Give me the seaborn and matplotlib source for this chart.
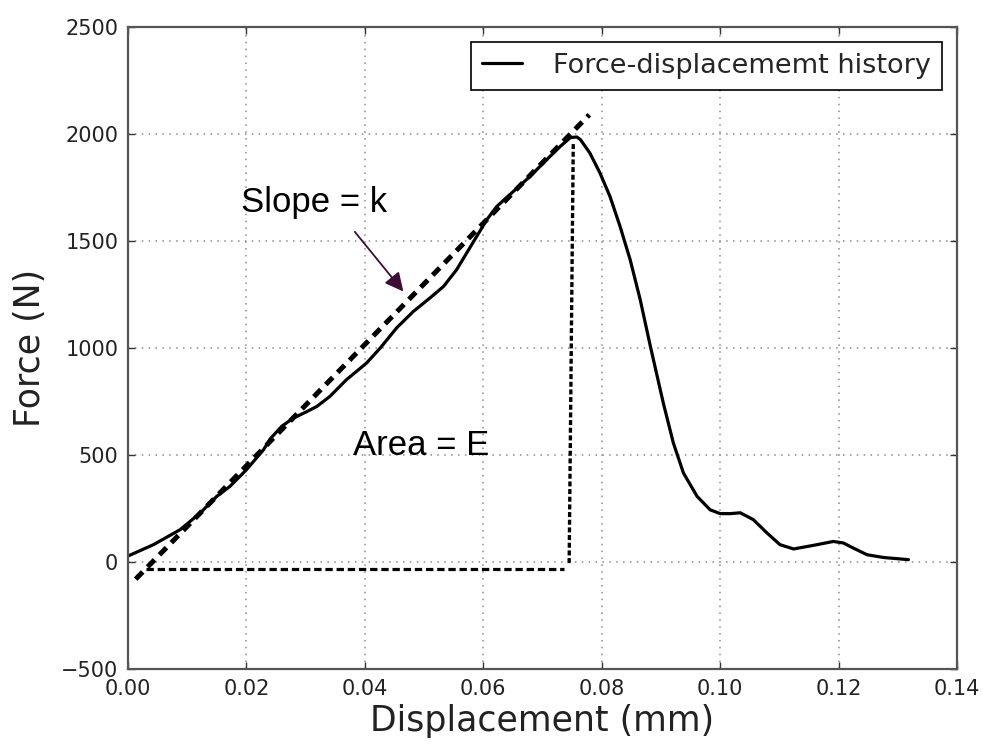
import matplotlib
matplotlib.use("Agg")
import matplotlib.pyplot as plt
import seaborn as sns

# Force-displacement history (mm, N)
disp = [0.0000, 0.0043, 0.0088, 0.0122, 0.0150, 0.0172, 0.0200, 0.0229, 0.0240,
        0.0260, 0.0279, 0.0300, 0.0319, 0.0341, 0.0369, 0.0403, 0.0426, 0.0454,
        0.0482, 0.0510, 0.0533, 0.0555, 0.0572, 0.0589, 0.0606, 0.0623, 0.0651,
        0.0679, 0.0707, 0.0730, 0.0747, 0.0758, 0.0764, 0.0780, 0.0797, 0.0814,
        0.0831, 0.0848, 0.0865, 0.0882, 0.0904, 0.0921, 0.0938, 0.0961, 0.0983,
        0.1000, 0.1017, 0.1034, 0.1056, 0.1079, 0.1101, 0.1124, 0.1158, 0.1191,
        0.1208, 0.1225, 0.1248, 0.1276, 0.1318]
force = [28, 81, 151, 229, 307, 353, 431, 525, 575,
         635, 672, 700, 727, 774, 852, 930, 1000, 1095,
         1171, 1234, 1288, 1366, 1444, 1522, 1600, 1662, 1732,
         1802, 1880, 1942, 1983, 1986, 1974, 1911, 1818, 1708,
         1568, 1413, 1226, 1010, 743, 556, 416, 307, 244,
         226, 226, 230, 198, 136, 81, 61, 78, 96,
         89, 65, 34, 21, 11]

# Linear stiffness fit (slope k)
slope_x = [0.0013, 0.0779]
slope_y = [-80, 2090]

# Energy region outline
area_h_x = [0.0030, 0.0737]
area_h_y = [-35, -35]
area_v_x = [0.0745, 0.0752]
area_v_y = [-5, 1965]

sns.set_style("ticks")
plt.rcParams["font.family"] = ["DejaVu Sans"]

fig = plt.figure(figsize=(9.83, 7.45), dpi=100)
ax = fig.add_axes([128 / 983, 1 - 669 / 745, 829 / 983, 642 / 745])

ax.grid(True, color="#8a8a8a", linestyle=(0, (1, 3.5)), linewidth=1.1)
ax.set_axisbelow(True)

sns.lineplot(x=disp, y=force, ax=ax, color="black", linewidth=2.3, sort=False,
             label="Force-displacememt history", solid_joinstyle="round",
             solid_capstyle="round")

ax.plot(slope_x, slope_y, color="black", linewidth=3.6,
        linestyle=(0, (2.0, 1.4)), dash_capstyle="butt")
ax.plot(area_h_x, area_h_y, color="black", linewidth=2.3,
        linestyle=(0, (2.3, 1.2)), dash_capstyle="butt")
ax.plot(area_v_x, area_v_y, color="black", linewidth=2.4,
        linestyle=(0, (1.5, 0.8)), dash_capstyle="butt")

ax.text(0.0314, 1680, "Slope = k", fontsize=25, family="Liberation Sans",
        ha="center", va="center", color="black")
ax.text(0.0495, 543, "Area = E", fontsize=25, family="Liberation Sans",
        ha="center", va="center", color="black")
ax.annotate("", xy=(0.0465, 1264), xytext=(0.0383, 1543),
            arrowprops=dict(arrowstyle="-|>", color="#3d0d35", lw=1.3,
                            mutation_scale=28, shrinkA=0, shrinkB=0))

ax.set_xlim(0.0, 0.14)
ax.set_ylim(-500, 2500)
ax.set_xticks([0.00, 0.02, 0.04, 0.06, 0.08, 0.10, 0.12, 0.14])
ax.set_xticklabels(["0.00", "0.02", "0.04", "0.06", "0.08", "0.10", "0.12", "0.14"])
ax.set_yticks([-500, 0, 500, 1000, 1500, 2000, 2500])
ax.set_yticklabels(["\u2212500", "0", "500", "1000", "1500", "2000", "2500"])
ax.tick_params(direction="in", length=5, width=1, top=True, right=True,
               labelsize=15, pad=7, color="#333333", labelcolor="#222222")

for s in ax.spines.values():
    s.set_visible(True)
    s.set_color("#555555")
    s.set_linewidth(1.6)

ax.set_xlabel("Displacement (mm)", fontsize=25, color="#222222", labelpad=4)
ax.set_ylabel("Force (N)", fontsize=25, color="#222222", labelpad=10)

leg = ax.legend(loc="upper right", fontsize=19.5, frameon=True, fancybox=False,
                handlelength=1.5, handletextpad=1.15, borderpad=0.4,
                borderaxespad=0.55)
leg.get_frame().set_edgecolor("black")
leg.get_frame().set_linewidth(1.2)
leg.get_frame().set_alpha(1)

fig.savefig("out.png", dpi=100)
